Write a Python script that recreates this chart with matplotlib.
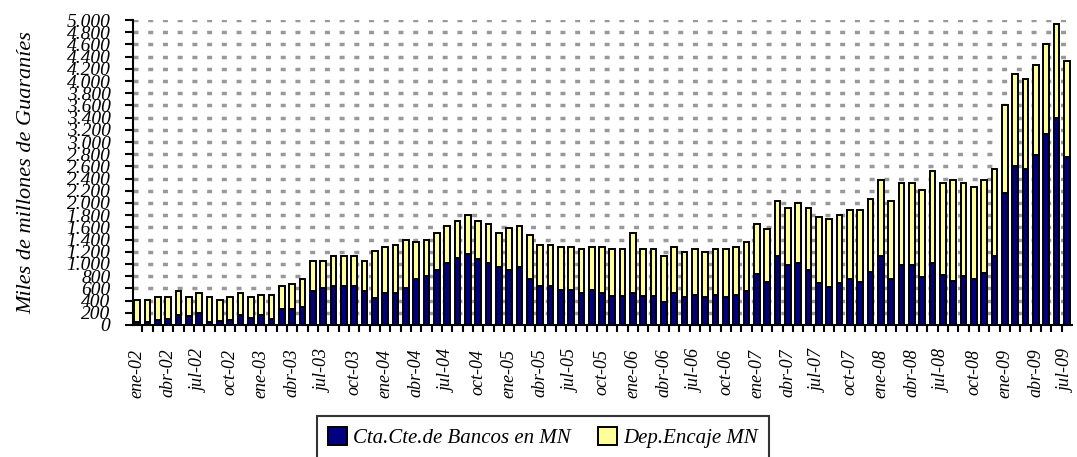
import numpy as np
import matplotlib.pyplot as plt
from matplotlib.patches import Patch

# Cuentas corrientes y encaje legal en moneda nacional (miles de millones de Gs.)
meses = ["ene", "feb", "mar", "abr", "may", "jun",
         "jul", "ago", "sep", "oct", "nov", "dic"]
periodos = [f"{m}-{a:02d}" for a in range(2, 10) for m in meses][:91]

cta_cte = [40, 40, 80, 90, 165, 150, 190, 40, 70, 80, 165, 115,
           160, 104, 257, 268, 300, 563, 600, 640, 640, 640, 563, 443,
           525, 525, 601, 754, 798, 902, 1016, 1100, 1164, 1080, 1016, 950,
           902, 950, 760, 635, 635, 565, 565, 519, 568, 519, 475, 481,
           520, 481, 480, 377, 519, 454, 485, 454, 492, 454, 492, 563,
           831, 710, 1131, 984, 1022, 902, 683, 628, 683, 754, 710, 869,
           1131, 749, 978, 978, 792, 1011, 825, 716, 800, 749, 847, 1126,
           2158, 2601, 2563, 2787, 3131, 3399, 2754]

encaje = [370, 370, 370, 370, 398, 310, 335, 415, 340, 375, 360, 340,
          326, 382, 383, 410, 460, 492, 455, 486, 486, 486, 492, 765,
          754, 786, 792, 607, 595, 606, 607, 599, 645, 619, 645, 564,
          683, 673, 710, 682, 682, 714, 714, 721, 711, 760, 765, 759,
          994, 759, 760, 749, 760, 748, 755, 748, 748, 786, 787, 792,
          825, 869, 907, 939, 973, 1021, 1087, 1110, 1126, 1131, 1175, 1202,
          1241, 1286, 1355, 1355, 1427, 1514, 1508, 1656, 1533, 1508, 1525, 1431,
          1454, 1508, 1470, 1470, 1470, 1535, 1579]

yticks = list(range(0, 5001, 200))

AZUL = "#000080"
AMARILLO = "#FFFF99"
FUENTE = "Liberation Serif"

fig = plt.figure(figsize=(10.77, 4.57), dpi=100)
ax = fig.add_axes([0.1232, 0.289, 0.872, 0.667])

x = np.arange(len(periodos))
ax.bar(x, cta_cte, width=0.55, color=AZUL, edgecolor="black", linewidth=1.4,
       zorder=3)
ax.bar(x, encaje, width=0.55, bottom=cta_cte, color=AMARILLO,
       edgecolor="black", linewidth=1.4, zorder=3)

ax.set_xlim(-0.45, len(periodos) - 0.5)
ax.set_ylim(0, 5000)

# grilla horizontal punteada
for v in yticks[1:]:
    ax.axhline(v, color="#999999", linewidth=2.5, linestyle=(0, (1.44, 2.8)),
               zorder=1)

for s in ["top", "right"]:
    ax.spines[s].set_visible(False)
for s in ["left", "bottom"]:
    ax.spines[s].set_linewidth(1.5)
    ax.spines[s].set_zorder(4)

ax.set_yticks(yticks)
ax.set_yticklabels([f"{v:,}".replace(",", ".") for v in yticks],
                   fontfamily=FUENTE, fontstyle="italic", fontsize=14)
ax.tick_params(axis="y", direction="out", length=6, width=1.5, pad=10)

ax.set_xticks(x[::3])
ax.set_xticklabels(periodos[::3], rotation=90, fontfamily=FUENTE,
                   fontstyle="italic", fontsize=13, va="top", ha="center")
ax.set_xticks(x[:-1] + 0.5, minor=True)
ax.tick_params(axis="x", which="major", length=0, pad=17)
ax.tick_params(axis="x", which="minor", direction="out", length=5, width=1.5)

ax.set_ylabel("Miles de millones de Guaraníes", fontfamily=FUENTE,
              fontstyle="italic", fontsize=16, labelpad=22)

handles = [Patch(facecolor=AZUL, edgecolor="black", linewidth=1.4),
           Patch(facecolor=AMARILLO, edgecolor="black", linewidth=1.4)]
leg = fig.legend(handles, ["Cta.Cte.de Bancos en MN", "Dep.Encaje MN"],
                 loc="upper center", bbox_to_anchor=(0.504, 1 - 416 / 457),
                 ncol=2, frameon=True, fancybox=False, shadow=False,
                 prop={"family": FUENTE, "style": "italic", "size": 15},
                 handlelength=0.9, handleheight=0.9, handletextpad=0.3,
                 columnspacing=1.3, borderpad=0.55, borderaxespad=0)
leg.get_frame().set_edgecolor("black")
leg.get_frame().set_linewidth(1.5)

fig.savefig("out.png", dpi=100)
